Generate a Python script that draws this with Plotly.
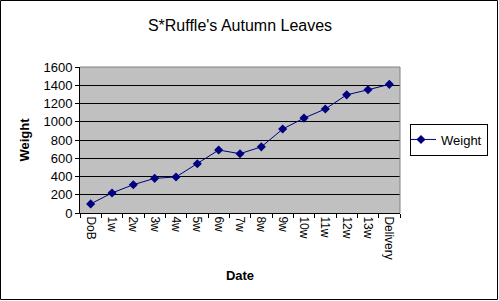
import plotly.graph_objects as go

dates = ["DoB", "1w", "2w", "3w", "4w", "5w", "6w", "7w", "8w", "9w",
         "10w", "11w", "12w", "13w", "Delivery"]
weights = [100, 220, 310, 380, 395, 540, 690, 650, 725, 920,
           1040, 1140, 1295, 1350, 1410]

W, H = 499, 301
L, R, T, B = 80, 99, 67, 88
pw, ph = W - L - R, H - T - B

FONT = "Liberation Sans, Arial, sans-serif"

fig = go.Figure()
fig.add_trace(go.Scatter(
    x=dates, y=weights, mode="lines+markers", name="Weight",
    line=dict(color="#000080", width=1),
    marker=dict(symbol="diamond", size=7, color="#000080"),
))

def px_to_paper_x(px):
    return (px - L) / pw

def px_to_paper_y(py):
    return (H - B - py) / ph

fig.update_layout(
    width=W, height=H,
    margin=dict(l=L, r=R, t=T, b=B, autoexpand=False),
    paper_bgcolor="white",
    plot_bgcolor="#C0C0C0",
    font=dict(family=FONT, size=13, color="black"),
    title=dict(text="S*Ruffle's Autumn Leaves", x=0.5, xref="paper",
               y=1 - 25 / H, yanchor="middle",
               font=dict(family=FONT, size=16, color="black")),
    showlegend=True,
    legend=dict(x=px_to_paper_x(410), y=px_to_paper_y(139.5),
                xanchor="left", yanchor="middle",
                bordercolor="black", borderwidth=1, bgcolor="white",
                font=dict(family=FONT, size=13),
                itemwidth=30, tracegroupgap=0, indentation=-10),
    xaxis=dict(
        type="category", showgrid=False, zeroline=False,
        showline=True, linecolor="black", linewidth=1, mirror=False,
        ticks="outside", ticklen=4, tickcolor="black", tickson="boundaries",
        tickangle=90, tickfont=dict(family=FONT, size=12),
        title=dict(text="<b>Date</b>", font=dict(family=FONT, size=13), standoff=12),
        range=[-0.5, len(dates) - 0.5],
    ),
    yaxis=dict(
        range=[0, 1600], dtick=200, showgrid=True, gridcolor="black", gridwidth=1,
        zeroline=False, showline=True, linecolor="black", linewidth=1,
        ticks="outside", ticklen=4, tickcolor="black",
        tickfont=dict(family=FONT, size=13),
        title=dict(text="<b>Weight</b>", font=dict(family=FONT, size=13), standoff=10),
    ),
    shapes=[
        dict(type="line", xref="paper", yref="paper", x0=0, x1=1, y0=1, y1=1,
             line=dict(color="#808080", width=1)),
        dict(type="line", xref="paper", yref="paper", x0=1, x1=1, y0=0, y1=1,
             line=dict(color="#808080", width=1)),
        dict(type="rect", xref="paper", yref="paper",
             x0=px_to_paper_x(0.5), x1=px_to_paper_x(W - 1.5),
             y0=px_to_paper_y(H - 1.5), y1=px_to_paper_y(0.5),
             line=dict(color="black", width=1), layer="above"),
    ],
)

fig.write_html("out.html")
